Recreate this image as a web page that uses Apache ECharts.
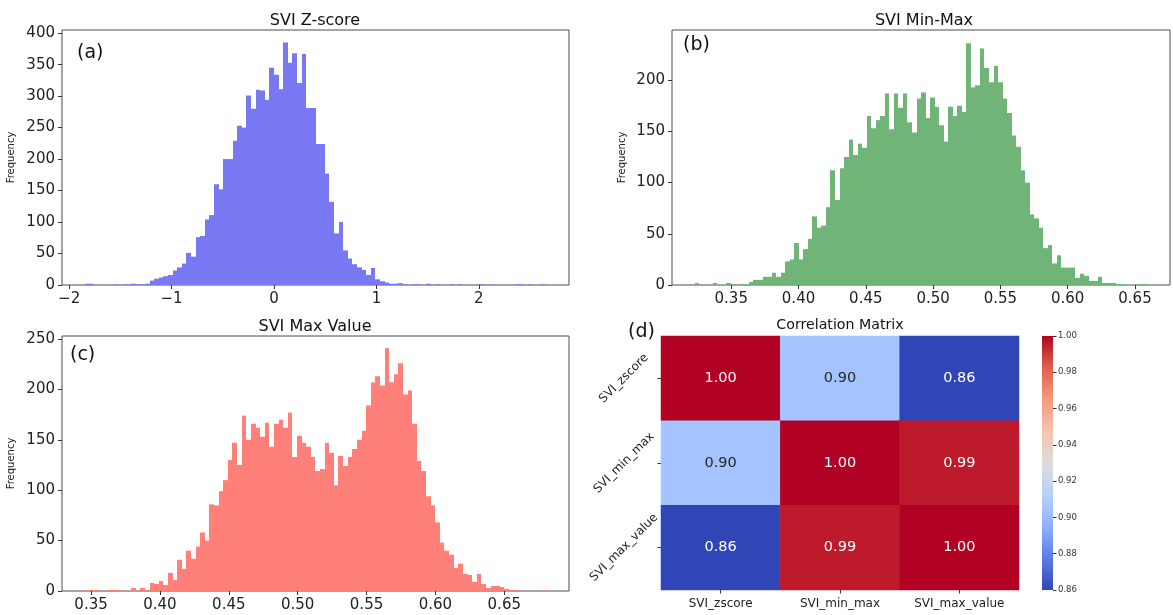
<!DOCTYPE html>
<html><head><meta charset="utf-8">
<script src="https://cdn.jsdelivr.net/npm/echarts@6.0.0/dist/echarts.min.js"></script>
<style>html,body{margin:0;padding:0;background:#fff}#c{width:1173px;height:615px}</style>
</head><body><div id="c"></div>
<script>
// ---------- DATA ----------
const zBinStart = -1.845, zBinWidth = 0.045;
const zCounts = [2,2,0,0,0,0,1,0,1,1, 2,1,1,2,7,10,12,14,16,23, 28,34,51,45,76,78,104,111,160,152,
  200,200,229,253,250,301,280,310,309,294, 345,334,311,385,353,368,321,367,281,281,
  224,224,177,132,82,100,55,42,33,28, 24,16,27,9,6,4,2,2,3,1, 0,1,1,0,2,0,1,0,0,1,
  0,1,0,0,0,1,1,0,1,0, 0,0,0,1,1,0,1,0,0,1];
const zXTicks = [-2, -1, 0, 1, 2];
const zYTicks = [0, 50, 100, 150, 200, 250, 300, 350, 400];

const mBinStart = 0.3228, mBinWidth = 0.003365;
const mCounts = [2,0,0,0,2,0,0,2,1,0, 1,1,3,5,5,8,8,12,8,12, 23,25,41,25,35,45,67,56,58,76,
  112,83,114,125,142,127,138,134,165,153, 161,165,187,152,187,173,187,159,149,182,
  188,163,183,174,156,140,174,165,175,169, 236,193,195,231,212,198,214,198,182,168,
  146,135,112,100,69,65,56,36,39,21, 29,17,17,17,7,11,9,4,4,8, 2,2,2,1,1,0,0,0,1,1];
const mXTicks = [0.35, 0.40, 0.45, 0.50, 0.55, 0.60, 0.65];
const mYTicks = [0, 50, 100, 150, 200];

const vBinStart = 0.3456, vBinWidth = 0.003346;
const vCounts = [1,1,1,0,0,1,1,1,0,0, 3,0,3,0,8,7,10,6,18,11, 31,22,40,32,44,58,50,86,85,99,
  110,130,147,125,174,150,166,162,153,167, 143,166,170,162,177,133,154,147,143,133,
  119,121,147,137,105,134,124,133,141,150, 159,184,207,213,204,241,207,215,226,195,
  199,166,129,119,94,85,68,48,40,36, 23,27,17,16,9,17,7,3,5,5, 4,2,1,1,0,0,0,0,0,1];
const vXTicks = [0.35, 0.40, 0.45, 0.50, 0.55, 0.60, 0.65];
const vYTicks = [0, 50, 100, 150, 200, 250];

const corrNames = ['SVI_zscore', 'SVI_min_max', 'SVI_max_value'];
const corrValues = [[1.00, 0.903, 0.86], [0.903, 1.00, 0.993], [0.86, 0.993, 1.00]];
const cbMin = 0.86, cbMax = 1.00;
const cbTicks = [0.86, 0.88, 0.90, 0.92, 0.94, 0.96, 0.98, 1.00];

const titles = ['SVI Z-score', 'SVI Min-Max', 'SVI Max Value', 'Correlation Matrix'];
const panelTags = ['(a)', '(b)', '(c)', '(d)'];

// ---------- STYLE ----------
const FONT = 'DejaVu Sans';
const TXT = '#222';
const FRAME = '#4d4d4d';
// coolwarm-like samples (slightly deepened ends to match the reference)
const coolwarm = [[0,[48,70,182]],[0.125,[92,124,230]],[0.25,[141,176,254]],[0.3125,[163,194,255]],
  [0.375,[184,208,249]],[0.5,[221,221,221]],[0.625,[245,196,173]],[0.75,[244,154,123]],
  [0.875,[222,96,77]],[0.9375,[200,52,52]],[1,[178,2,36]]];
const rgb = c => 'rgb(' + c.map(Math.round).join(',') + ')';
function cwAt(t){
  t = Math.max(0, Math.min(1, t));
  for (let i = 1; i < coolwarm.length; i++) {
    const [t1, c1] = coolwarm[i], [t0, c0] = coolwarm[i-1];
    if (t <= t1) { const f = (t - t0) / (t1 - t0); return c0.map((v, k) => v + (c1[k] - v) * f); }
  }
  return coolwarm[coolwarm.length-1][1];
}
function lum(c){ const l = c.map(v => { v /= 255; return v <= 0.03928 ? v/12.92 : Math.pow((v+0.055)/1.055, 2.4); });
  return 0.2126*l[0] + 0.7152*l[1] + 0.0722*l[2]; }

const histData = (start, w, counts) => counts.map((c, i) => [start + i*w, start + (i+1)*w, c]);
function histRender(params, api){
  const p0 = api.coord([api.value(0), api.value(2)]);
  const p1 = api.coord([api.value(1), 0]);
  const x0 = Math.round(p0[0]), x1 = Math.round(p1[0]);
  return { type: 'rect', shape: { x: x0, y: p0[1], width: x1 - x0, height: p1[1]-p0[1] },
           style: api.style() };
}

const grids = [
  { left: 62, top: 30, width: 507, height: 255 },
  { left: 672, top: 30, width: 498, height: 255 },
  { left: 62, top: 336, width: 507, height: 255 },
  { left: 661, top: 336, width: 358, height: 254 },
  { left: 1042, top: 336, width: 11, height: 254 }
].map((g, i) => Object.assign(g, i < 3 ? { show: true, borderColor: FRAME, borderWidth: 1, backgroundColor: 'transparent' } : {}));

const minus = v => String(v).replace('-', '\u2212');
function histX(gi, min, max, ticks, fmt){
  return { type: 'value', gridIndex: gi, min, max, splitLine: { show: false }, axisLine: { show: false, onZero: false },
    axisTick: { show: true, length: 4, customValues: ticks, lineStyle: { color: '#333' } },
    axisLabel: { customValues: ticks, formatter: fmt, fontFamily: FONT, fontSize: 15, color: TXT, margin: 7 } };
}
function histY(gi, max, ticks, gap){
  return { type: 'value', gridIndex: gi, min: 0, max, splitLine: { show: false }, axisLine: { show: false, onZero: false },
    name: 'Frequency', nameLocation: 'middle', nameGap: gap,
    nameTextStyle: { fontFamily: FONT, fontSize: 10, color: TXT },
    axisTick: { show: true, length: 4, customValues: ticks, lineStyle: { color: '#333' } },
    axisLabel: { customValues: ticks, fontFamily: FONT, fontSize: 15, color: TXT, margin: 7 } };
}

const heatData = [];
corrValues.forEach((row, r) => row.forEach((v, c) => {
  const col = cwAt((v - cbMin) / (cbMax - cbMin));
  heatData.push({ value: [c, r, v], label: { color: lum(col) > 0.408 ? '#262626' : '#ffffff' } });
}));

const chart = echarts.init(document.getElementById('c'), null, { renderer: 'canvas' });
chart.setOption({
  animation: false,
  backgroundColor: '#ffffff',
  title: [
    { text: titles[0], left: 315, top: 13 },
    { text: titles[1], left: 924, top: 13 },
    { text: titles[2], left: 315, top: 319 },
    { text: titles[3], left: 840, top: 318, textStyle: { fontSize: 14.2 } }
  ].map(t => Object.assign({ textAlign: 'center', padding: 0 }, t,
      { textStyle: Object.assign({ fontFamily: FONT, fontSize: 16, fontWeight: 'normal', color: '#111' }, t.textStyle || {}) })),
  grid: grids,
  xAxis: [
    histX(0, -2.07, 2.88, zXTicks, minus),
    histX(1, 0.306, 0.676, mXTicks, v => v.toFixed(2)),
    histX(2, 0.3289, 0.697, vXTicks, v => v.toFixed(2)),
    { type: 'category', gridIndex: 3, data: corrNames, axisLine: { show: false, onZero: false }, splitLine: { show: false },
      axisTick: { show: true, alignWithLabel: true, length: 3.5, lineStyle: { color: '#333' } },
      axisLabel: { fontFamily: FONT, fontSize: 12, color: TXT, margin: 8 } },
    { type: 'value', gridIndex: 4, min: 0, max: 1, show: false, axisLine: { onZero: false } }
  ],
  yAxis: [
    histY(0, 405, zYTicks, 46),
    histY(1, 249, mYTicks, 45),
    histY(2, 253, vYTicks, 46),
    { type: 'category', gridIndex: 3, data: corrNames, inverse: true, axisLine: { show: false, onZero: false }, splitLine: { show: false },
      axisTick: { show: true, alignWithLabel: true, length: 3.5, lineStyle: { color: '#333' } },
      axisLabel: { fontFamily: FONT, fontSize: 12, color: TXT, rotate: 45, align: 'center', verticalAlign: 'middle', margin: 37 } },
    { type: 'value', gridIndex: 4, min: cbMin, max: cbMax, position: 'right', splitLine: { show: false }, axisLine: { show: false, onZero: false },
      axisTick: { show: true, length: 3.5, customValues: cbTicks, lineStyle: { color: '#333' } },
      axisLabel: { customValues: cbTicks, formatter: v => v.toFixed(2), fontFamily: FONT, fontSize: 8.5, color: '#333', margin: 5 } }
  ],
  visualMap: {
    type: 'continuous', show: false, seriesIndex: 3, min: cbMin, max: cbMax, dimension: 2,
    inRange: { color: coolwarm.map(s => rgb(s[1])) }
  },
  series: [
    { type: 'custom', xAxisIndex: 0, yAxisIndex: 0, renderItem: histRender, encode: { x: [0, 1], y: 2 },
      itemStyle: { color: '#7878f3' }, data: histData(zBinStart, zBinWidth, zCounts) },
    { type: 'custom', xAxisIndex: 1, yAxisIndex: 1, renderItem: histRender, encode: { x: [0, 1], y: 2 },
      itemStyle: { color: '#71b477' }, data: histData(mBinStart, mBinWidth, mCounts) },
    { type: 'custom', xAxisIndex: 2, yAxisIndex: 2, renderItem: histRender, encode: { x: [0, 1], y: 2 },
      itemStyle: { color: '#ff7f79' }, data: histData(vBinStart, vBinWidth, vCounts) },
    { type: 'heatmap', xAxisIndex: 3, yAxisIndex: 3, data: heatData,
      label: { show: true, formatter: p => p.value[2].toFixed(2), fontFamily: FONT, fontSize: 14.5 },
      itemStyle: { borderWidth: 0 }, emphasis: { disabled: true } },
    { type: 'custom', xAxisIndex: 4, yAxisIndex: 4, data: [[0, cbMin, 1, cbMax]], silent: true,
      renderItem: (params, api) => {
        const p0 = api.coord([api.value(0), api.value(3)]);
        const p1 = api.coord([api.value(2), api.value(1)]);
        return { type: 'rect', shape: { x: p0[0], y: p0[1], width: p1[0]-p0[0], height: p1[1]-p0[1] },
          style: { fill: new echarts.graphic.LinearGradient(0, 1, 0, 0, coolwarm.map(s => ({ offset: s[0], color: rgb(s[1]) }))) } };
      } }
  ],
  graphic: [
    { x: 77, y: 53, tag: 0 }, { x: 683, y: 45, tag: 1 }, { x: 70, y: 355, tag: 2 }, { x: 628, y: 332, tag: 3 }
  ].map(g => ({ type: 'text', x: g.x, y: g.y, silent: true,
      style: { text: panelTags[g.tag], fontFamily: FONT, fontSize: 19, fill: '#111', verticalAlign: 'middle' } }))
});
</script></body></html>
